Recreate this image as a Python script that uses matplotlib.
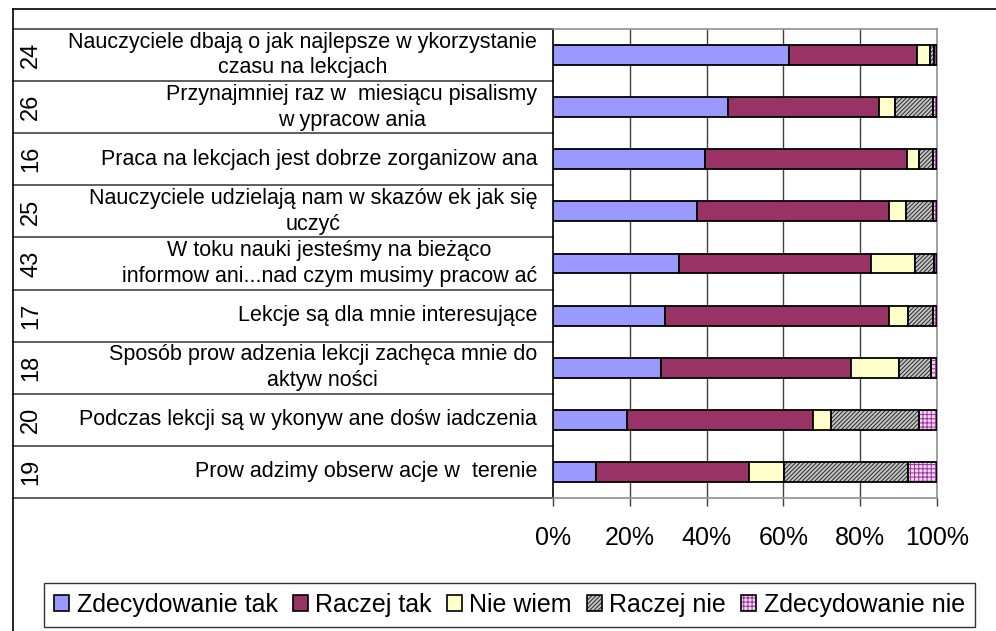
import numpy as np
import matplotlib
matplotlib.use("Agg")
import matplotlib.pyplot as plt
import matplotlib.transforms as mtransforms
from matplotlib.lines import Line2D
from matplotlib.patches import Patch
from matplotlib.legend_handler import HandlerTuple

plt.rcParams["font.family"] = ["Liberation Sans", "DejaVu Sans"]
plt.rcParams["hatch.linewidth"] = 0.7

# numery pytań i treść (od góry)
numbers = ["24", "26", "16", "25", "43", "17", "18", "20", "19"]
labels = [
    "Nauczyciele dbają o jak najlepsze w ykorzystanie\nczasu na lekcjach",
    "Przynajmniej raz w  miesiącu pisalismy\nw ypracow ania",
    "Praca na lekcjach jest dobrze zorganizow ana",
    "Nauczyciele udzielają nam w skazów ek jak się\nuczyć",
    "W toku nauki jesteśmy na bieżąco\ninformow ani...nad czym musimy pracow ać",
    "Lekcje są dla mnie interesujące",
    "Sposób prow adzenia lekcji zachęca mnie do\naktyw ności",
    "Podczas lekcji są w ykonyw ane dośw iadczenia",
    "Prow adzimy obserw acje w  terenie",
]

series_names = ["Zdecydowanie tak", "Raczej tak", "Nie wiem", "Raczej nie", "Zdecydowanie nie"]

# wartości w procentach
zdecydowanie_tak = [61.4, 45.7, 39.5, 37.4, 32.7, 29.1, 28.0, 19.2, 11.3]
raczej_tak = [33.4, 39.1, 52.6, 50.1, 50.1, 58.4, 49.6, 48.4, 39.7]
nie_wiem = [3.3, 4.2, 3.2, 4.5, 11.4, 5.0, 12.6, 4.7, 9.2]
raczej_nie = [1.0, 10.0, 3.7, 7.0, 5.1, 6.5, 8.2, 23.1, 32.2]
zdecydowanie_nie = [0.9, 1.0, 1.0, 1.0, 0.7, 1.0, 1.6, 4.6, 7.6]

xticks = [0, 20, 40, 60, 80, 100]

# wygląd serii: (wypełnienie, kreskowanie, kolor kreskowania)
styles = [
    ("#9999FF", None, None),
    ("#993366", None, None),
    ("#FFFFCC", None, None),
    ("#c4c4c4", "////////", "#2a2a2a"),
    ("#f2d6f2", "++++", "#993399"),
]

W, H = 996, 631
fig = plt.figure(figsize=(W / 100, H / 100), dpi=100)
ax = fig.add_axes([553 / W, 1 - 498 / H, (937 - 553) / W, (498 - 29) / H])

n = len(numbers)
y = np.arange(n)[::-1]
data = [zdecydowanie_tak, raczej_tak, nie_wiem, raczej_nie, zdecydowanie_nie]

left = np.zeros(n)
for vals, (fc, hatch, hc) in zip(data, styles):
    vals = np.array(vals)
    if hatch:
        ax.barh(y, vals, left=left, height=0.38, color=fc, hatch=hatch,
                edgecolor=hc, linewidth=0, zorder=3)
        ax.barh(y, vals, left=left, height=0.38, fill=False,
                edgecolor="black", linewidth=1.3, zorder=4)
    else:
        ax.barh(y, vals, left=left, height=0.38, color=fc,
                edgecolor="black", linewidth=1.3, zorder=3)
    left += vals

ax.set_xlim(0, 100)
ax.set_ylim(-0.5, n - 0.5)
ax.set_xticks(xticks)
ax.set_xticklabels([f"{v}%" for v in xticks], fontsize=18)
ax.set_yticks([])
ax.tick_params(axis="x", length=6, width=1, color="#404040", pad=14)
for v in xticks[1:-1]:
    ax.axvline(v, color="#404040", lw=1, zorder=1)

for s in ["top", "right", "bottom"]:
    ax.spines[s].set_color("#909090")
    ax.spines[s].set_linewidth(1.2)
ax.spines["left"].set_color("black")
ax.spines["left"].set_linewidth(1.2)

# tabela z opisami po lewej
trans = mtransforms.blended_transform_factory(fig.transFigure, ax.transData)
for k in range(n + 1):
    ax.plot([12.5 / W, 553 / W], [k - 0.5, k - 0.5], transform=trans,
            color="#333333", lw=1.1, clip_on=False)
for yi, num, lab in zip(y, numbers, labels):
    ax.text(31 / W, yi, num, transform=trans, rotation=90,
            ha="center", va="center", fontsize=17)
    ax.text(537 / W, yi, lab, transform=trans, ha="right", va="center",
            multialignment="center", fontsize=15.5, linespacing=1.3)

# ramka wykresu
fig.add_artist(Line2D([12.5 / W, 1], [1 - 9 / H, 1 - 9 / H], color="black", lw=1.2))
fig.add_artist(Line2D([12.5 / W, 12.5 / W], [0, 1 - 9 / H], color="black", lw=1.2))

handles = []
for fc, hatch, hc in styles:
    if hatch:
        handles.append((Patch(facecolor=fc, hatch=hatch, edgecolor=hc, linewidth=0),
                        Patch(fill=False, edgecolor="black", linewidth=1.2)))
    else:
        handles.append(Patch(facecolor=fc, edgecolor="black", linewidth=1.2))

leg = fig.legend(handles, series_names, loc="center",
                 bbox_to_anchor=((38 + 981) / 2 / W, 1 - 605 / H),
                 ncol=5, fontsize=18, frameon=True, fancybox=False,
                 edgecolor="black", handlelength=0.6, handleheight=0.6,
                 handletextpad=0.3, columnspacing=0.6, borderpad=0.4,
                 handler_map={tuple: HandlerTuple(ndivide=1, pad=0)})
leg.get_frame().set_linewidth(1.0)

fig.savefig("out.png", dpi=100)
